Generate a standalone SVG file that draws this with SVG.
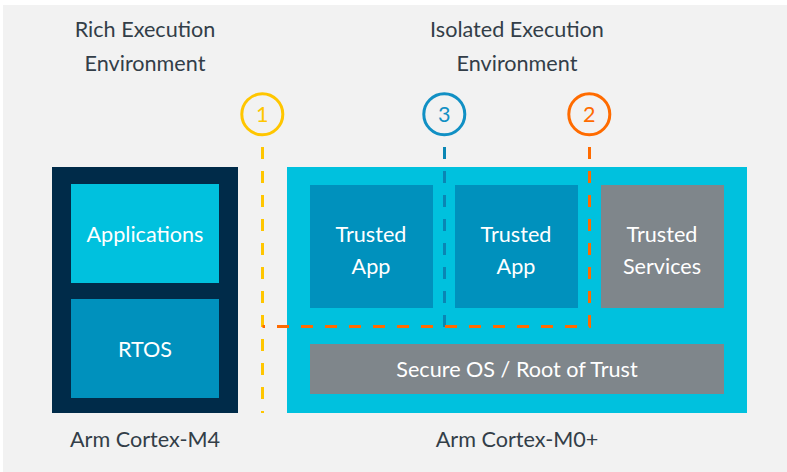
<svg xmlns="http://www.w3.org/2000/svg" width="787" height="472" viewBox="0 0 787 472">
<style>
.lbl{font-family:Lato,"Open Sans","Liberation Sans",sans-serif;font-size:21.6px;fill:#333e48;text-anchor:middle}
.in{font-family:Lato,"Open Sans","Liberation Sans",sans-serif;font-size:21.6px;fill:#ffffff;text-anchor:middle}
.num{font-family:Lato,"Open Sans","Liberation Sans",sans-serif;font-size:21.6px;text-anchor:middle}
.dash{fill:none;stroke-width:3;stroke-dasharray:12 12}
</style>
<rect x="3" y="5" width="784" height="467" fill="#f2f2f2"/>
<text class="lbl" x="145" y="37">Rich Execution</text>
<text class="lbl" x="145" y="71">Environment</text>
<text class="lbl" x="517" y="37">Isolated Execution</text>
<text class="lbl" x="517" y="71">Environment</text>
<g id="cortex-m4">
<rect x="52" y="167" width="186" height="246" fill="#002b49"/>
<text class="lbl" x="145" y="447">Arm Cortex-M4</text>
</g>
<g id="applications">
<rect x="71" y="184" width="148" height="99" fill="#00c1de"/>
<text class="in" x="145" y="242">Applications</text>
</g>
<g id="rtos">
<rect x="71" y="299" width="148" height="99" fill="#0091bd"/>
<text class="in" x="145" y="357">RTOS</text>
</g>
<g id="cortex-m0">
<rect x="287" y="167" width="460" height="246" fill="#00c1de"/>
<text class="lbl" x="517" y="447">Arm Cortex-M0+</text>
</g>
<g id="trusted-app-1">
<rect x="310" y="185" width="123" height="123" fill="#0091bd"/>
<text class="in" x="371" y="242">Trusted</text>
<text class="in" x="371" y="274">App</text>
</g>
<g id="trusted-app-2">
<rect x="455" y="185" width="123" height="123" fill="#0091bd"/>
<text class="in" x="516" y="242">Trusted</text>
<text class="in" x="516" y="274">App</text>
</g>
<g id="trusted-services">
<rect x="601" y="185" width="123" height="123" fill="#7f868b"/>
<text class="in" x="662" y="242">Trusted</text>
<text class="in" x="662" y="274">Services</text>
</g>
<g id="secure-os">
<rect x="310" y="344" width="414" height="50" fill="#7f868b"/>
<text class="in" x="517" y="377">Secure OS / Root of Trust</text>
</g>
<g id="connectors">
<path class="dash" d="M262.5,147 V413" stroke="#ffc600"/>
<path class="dash" d="M444.5,147 V328" stroke="#0a86b4"/>
<path class="dash" d="M589.5,147 V326.5 H262.5" stroke="#ff6b00"/>
</g>
<g id="marker-1">
<circle cx="262.3" cy="114.3" r="20.5" fill="none" stroke="#ffc600" stroke-width="3"/>
<text class="num" x="262.3" y="122" fill="#ffc600">1</text>
</g>
<g id="marker-3">
<circle cx="444.3" cy="114.3" r="20.5" fill="none" stroke="#1190c4" stroke-width="3"/>
<text class="num" x="444.3" y="122" fill="#1190c4">3</text>
</g>
<g id="marker-2">
<circle cx="589.3" cy="114.3" r="20.5" fill="none" stroke="#ff6b00" stroke-width="3"/>
<text class="num" x="589.3" y="122" fill="#ff6b00">2</text>
</g>
</svg>
